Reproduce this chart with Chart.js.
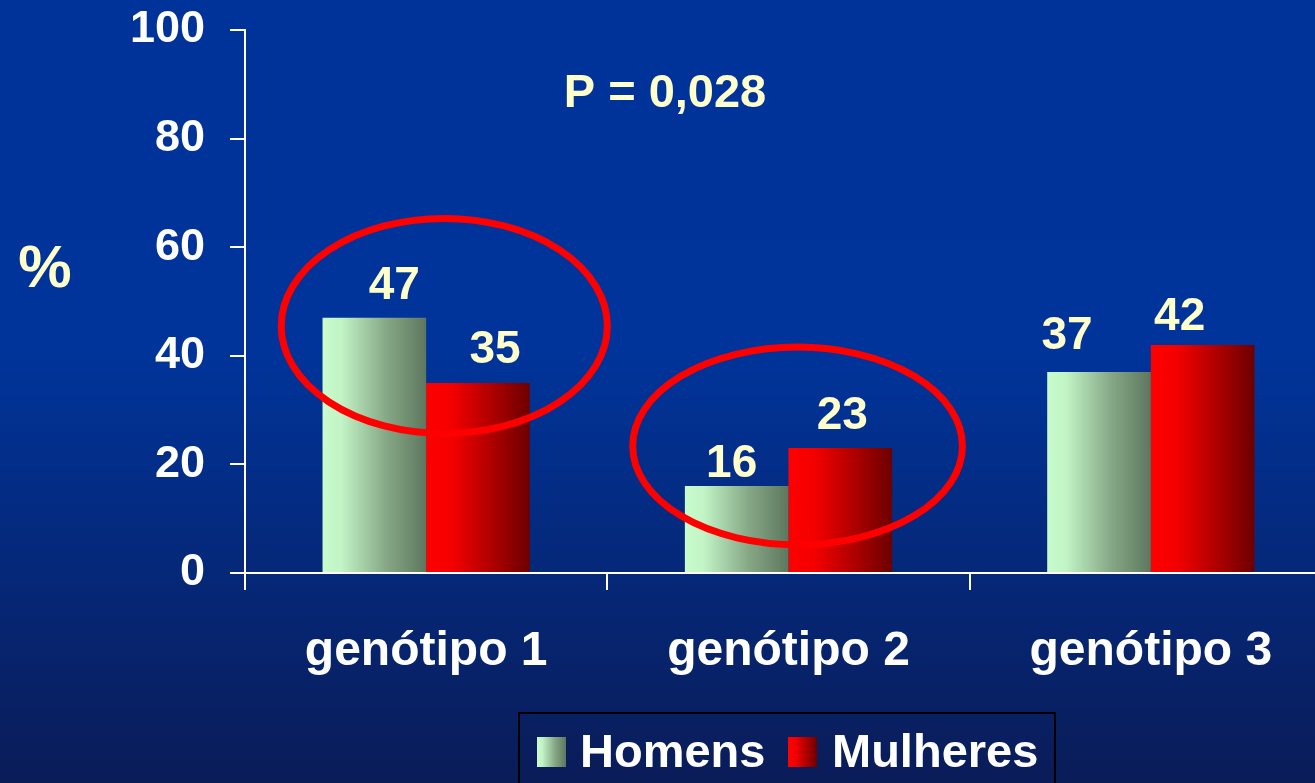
<!DOCTYPE html>
<html><head><meta charset="utf-8">
<script src="https://cdn.jsdelivr.net/npm/chart.js@4/dist/chart.umd.min.js"></script>
<style>
html,body{margin:0;padding:0;overflow:hidden;width:1315px;height:783px;background:#00257a;}
#wrap{position:absolute;left:0;top:0;width:1340px;height:783px;}
canvas{display:block}
</style></head><body>
<div id="wrap"><canvas id="c" width="1340" height="783"></canvas></div>
<script>
// ---- data ----
const categories = ['genótipo 1', 'genótipo 2', 'genótipo 3'];
const homens = [47, 16, 37];
const mulheres = [35, 23, 42];
const seriesNames = ['Homens', 'Mulheres'];
const yTicks = [0, 20, 40, 60, 80, 100];
const pValueText = 'P = 0,028';
const yTitle = '%';
// highlight ellipses, in data units: category centre, value centre, half width (categories), half height (value)
const ellipseCategory = [0.05, 1.025];
const ellipseValue = [45.5, 23.4];
const ellipseHalfWidth = [0.45, 0.455];
const ellipseHalfHeight = [19.8, 18.2];

// ---- styling ----
const FONT = "'Liberation Sans', Arial, Helvetica, sans-serif";
const CAT_PCT = 0.572;
const gradStops = [
  [[0, '#c8fccc'], [0.18, '#c2f4c6'], [0.6, '#88aa88'], [1, '#5d775e']],
  [[0, '#ff0000'], [0.25, '#f40000'], [1, '#6c0000']]
];
const labelDx = [[20, -5, -32], [17, 2, -23]];
const labelGap = [[19, 9, 23], [20, 19, 15]];

function makeGrad(ctx, left, w, stops) {
  const g = ctx.createLinearGradient(left, 0, left + w, 0);
  stops.forEach(s => g.addColorStop(s[0], s[1]));
  return g;
}
function barFill(c) {
  const chart = c.chart, xs = chart.scales && chart.scales.x;
  const stops = gradStops[c.datasetIndex];
  if (!xs || c.type !== 'data' || !xs.width) return stops[0][1];
  const center = xs.getPixelForValue(c.dataIndex);
  const w = xs.width / categories.length * CAT_PCT / 2;
  const left = center + (c.datasetIndex - 1) * w;
  return makeGrad(chart.ctx, left, w, stops);
}

const bgPlugin = {
  id: 'bg',
  beforeDraw(chart) {
    const ctx = chart.ctx;
    const g = ctx.createLinearGradient(0, 0, 0, chart.height);
    g.addColorStop(0, '#003399');
    g.addColorStop(0.45, '#00349a');
    g.addColorStop(1, '#0a1c58');
    ctx.save();
    ctx.fillStyle = g;
    ctx.fillRect(0, 0, chart.width, chart.height);
    ctx.restore();
  }
};

const decorPlugin = {
  id: 'decor',
  afterDatasetsDraw(chart) {
    const ctx = chart.ctx, xs = chart.scales.x, ys = chart.scales.y;
    const catW = xs.width / categories.length;
    ctx.save();
    // ellipses
    ctx.strokeStyle = '#ff0000';
    ctx.lineWidth = 7;
    for (let i = 0; i < ellipseCategory.length; i++) {
      const cx = xs.getPixelForValue(ellipseCategory[i]);
      const cy = ys.getPixelForValue(ellipseValue[i]);
      const rx = ellipseHalfWidth[i] * catW;
      const ry = Math.abs(ys.getPixelForValue(ellipseValue[i] + ellipseHalfHeight[i]) - cy);
      ctx.beginPath();
      ctx.ellipse(cx, cy, rx, ry, 0, 0, Math.PI * 2);
      ctx.stroke();
    }
    // value labels
    ctx.fillStyle = '#ffffcc';
    ctx.font = 'bold 46px ' + FONT;
    ctx.textAlign = 'center';
    ctx.textBaseline = 'alphabetic';
    chart.data.datasets.forEach((ds, di) => {
      chart.getDatasetMeta(di).data.forEach((el, i) => {
        ctx.fillText(String(ds.data[i]), el.x + labelDx[di][i], el.y - labelGap[di][i]);
      });
    });
    // P value
    ctx.font = 'bold 47px ' + FONT;
    ctx.fillText(pValueText, 665, 107);
    // y title
    ctx.font = 'bold 60px ' + FONT;
    ctx.fillText(yTitle, 45, 287);
    ctx.restore();
  },
  afterDraw(chart) {
    const ctx = chart.ctx;
    ctx.save();
    // legend box
    ctx.strokeStyle = '#000000';
    ctx.lineWidth = 2;
    ctx.strokeRect(519, 713, 536, 90);
    const sq = [537, 788];
    const tx = [580, 832];
    ctx.font = 'bold 47px ' + FONT;
    ctx.textAlign = 'left';
    ctx.textBaseline = 'alphabetic';
    seriesNames.forEach((n, i) => {
      ctx.fillStyle = makeGrad(ctx, sq[i], 29, gradStops[i]);
      ctx.fillRect(sq[i], 737, 29, 30);
      ctx.fillStyle = '#ffffff';
      ctx.fillText(n, tx[i], 767);
    });
    ctx.restore();
  }
};

new Chart(document.getElementById('c'), {
  type: 'bar',
  data: {
    labels: categories,
    datasets: [
      { label: seriesNames[0], data: homens, backgroundColor: barFill, borderWidth: 0 },
      { label: seriesNames[1], data: mulheres, backgroundColor: barFill, borderWidth: 0 }
    ]
  },
  options: {
    responsive: false,
    animation: false,
    events: [],
    layout: { padding: { top: 30, right: 8, left: 0, bottom: 0 } },
    datasets: { bar: { barPercentage: 1, categoryPercentage: CAT_PCT } },
    plugins: { legend: { display: false }, tooltip: { enabled: false }, title: { display: false } },
    scales: {
      x: {
        ticks: { color: '#ffffff', font: { family: FONT, size: 48, weight: 'bold' }, padding: 33, maxRotation: 0 },
        grid: { drawOnChartArea: false, drawTicks: true, tickLength: 17, color: '#ffffff', lineWidth: 2, offset: true },
        border: { display: true, color: '#ffffff', width: 2 },
        afterFit(s) { s.height = 210; s.paddingLeft = 0; s.paddingRight = 0; }
      },
      y: {
        min: 0, max: 100,
        afterBuildTicks(s) { s.ticks = yTicks.map(v => ({ value: v })); },
        ticks: { color: '#ffffff', font: { family: FONT, size: 45, weight: 'bold' }, padding: 25 },
        grid: { drawOnChartArea: false, drawTicks: true, tickLength: 15, color: '#ffffff', lineWidth: 2 },
        border: { display: true, color: '#ffffff', width: 2 },
        afterFit(s) { s.width = 245; s.paddingTop = 0; s.paddingBottom = 0; }
      }
    }
  },
  plugins: [bgPlugin, decorPlugin]
});
</script>
</body></html>
